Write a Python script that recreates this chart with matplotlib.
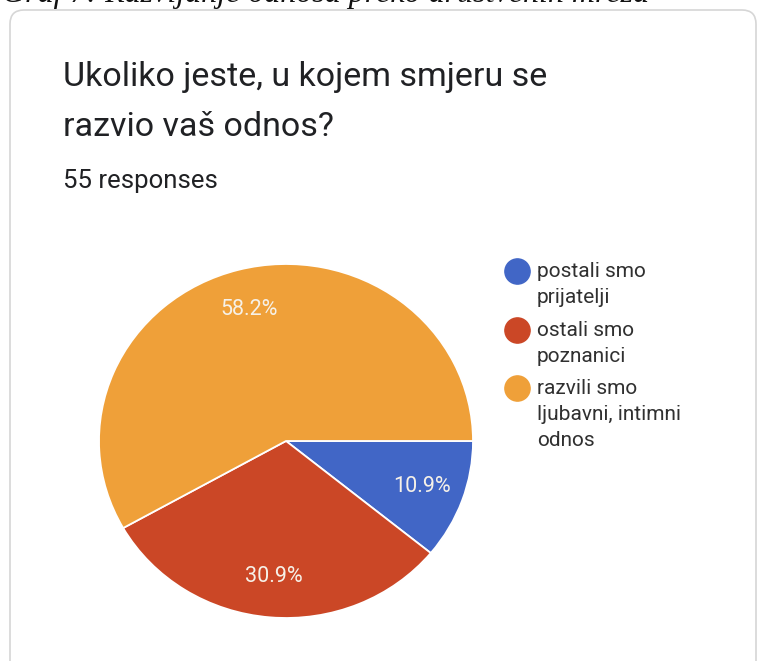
import matplotlib
matplotlib.use('Agg')
import matplotlib.pyplot as plt
from matplotlib.patches import FancyBboxPatch

# ---------------------------------------------------------------------------
# Data
# ---------------------------------------------------------------------------

CAPTION = "Graf 7: Razvijanje odnosa preko društvenih mreža"
QUESTION = ["Ukoliko jeste, u kojem smjeru se", "razvio vaš odnos?"]
RESPONSES = "55 responses"

answers = ["postali smo\nprijatelji",
           "ostali smo\npoznanici",
           "razvili smo\nljubavni, intimni\nodnos"]
counts = [6, 17, 32]
colors = ["#4166c6", "#cb4726", "#efa039"]

W, H = 761, 661
DPI = 100


def px(x, y):
    """pixel position (from top-left) -> figure fraction"""
    return x / W, 1 - y / H


fig = plt.figure(figsize=(W / DPI, H / DPI), dpi=DPI)
fig.patch.set_facecolor("white")

# overlay in pixel coordinates for card, texts and legend
ov = fig.add_axes([0, 0, 1, 1])
ov.set_xlim(0, W)
ov.set_ylim(H, 0)
ov.axis("off")

card = FancyBboxPatch((10, 10), 746, 700,
                      boxstyle="round,pad=0,rounding_size=14",
                      facecolor="white", edgecolor="#d6d6d6", linewidth=1.2)
ov.add_patch(card)

ov.text(2, 2, CAPTION, fontsize=23, family="Liberation Serif",
        style="italic", color="#111111", va="baseline", ha="left")

ov.text(63, 86, QUESTION[0], fontsize=24.5, family="Roboto",
        color="#202124", va="baseline")
ov.text(63, 136, QUESTION[1], fontsize=24.5, family="Roboto",
        color="#202124", va="baseline")
ov.text(63, 188, RESPONSES, fontsize=18.5, family="Roboto",
        color="#202124", va="baseline")

# legend: dot aligned with first line of each entry
legend_y = [271, 330, 388]
for y, lab, c in zip(legend_y, answers, colors):
    ov.scatter([517], [y], s=330, color=c, zorder=3)
    ov.text(537, y - 9, lab, fontsize=15, family="Roboto",
            color="#303030", va="top", ha="left", linespacing=1.45)

# ---------------------------------------------------------------------------
# Pie
# ---------------------------------------------------------------------------

cx, cy, rx, ry = 286, 441, 187, 177
x0, y1 = px(cx - rx, cy + ry)
ax = fig.add_axes([x0, y1, 2 * rx / W, 2 * ry / H])
wedges, _, autotexts = ax.pie(
    counts, colors=colors, startangle=0, counterclock=False,
    autopct="%1.1f%%", pctdistance=0.77,
    wedgeprops=dict(edgecolor="white", linewidth=1.3),
    textprops=dict(family="Roboto", fontsize=15.5, color="#f6f1e8"))
ax.set_aspect("auto")
ax.set_xlim(-1, 1)
ax.set_ylim(-1, 1)
ax.axis("off")

fig.savefig("out.png", dpi=DPI)
